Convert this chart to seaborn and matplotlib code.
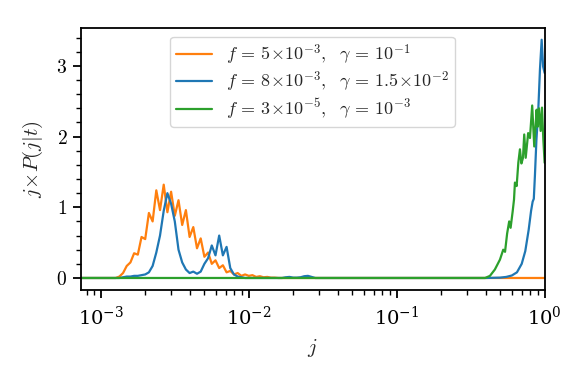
import numpy as np
import pandas as pd
import matplotlib
matplotlib.use("Agg")
import matplotlib.pyplot as plt
import matplotlib.ticker as mticker
import seaborn as sns

# ---------------- data ----------------
j_orange = [5.0e-4,
            1.000e-3, 1.059e-3, 1.122e-3, 1.189e-3, 1.259e-3, 1.334e-3, 1.413e-3, 1.496e-3,
            1.585e-3, 1.679e-3, 1.778e-3, 1.884e-3, 1.995e-3, 2.113e-3, 2.239e-3, 2.371e-3,
            2.512e-3, 2.661e-3, 2.818e-3, 2.985e-3, 3.162e-3, 3.350e-3, 3.548e-3, 3.758e-3,
            3.981e-3, 4.217e-3, 4.467e-3, 4.732e-3, 5.012e-3, 5.309e-3, 5.623e-3, 5.957e-3,
            6.310e-3, 6.683e-3, 7.079e-3, 7.499e-3, 7.943e-3, 8.414e-3, 8.913e-3, 9.441e-3,
            1.000e-2, 1.059e-2, 1.122e-2, 1.189e-2, 1.259e-2, 1.334e-2, 1.413e-2, 1.496e-2,
            1.585e-2, 3.0e-2, 1.0e-1, 3.0e-1, 1.0]
p_orange = [0.0,
            0.0, 0.0, 0.0, 0.0, 0.0, 0.02, 0.07, 0.17,
            0.22, 0.35, 0.33, 0.58, 0.55, 0.92, 0.80, 1.24,
            0.96, 1.32, 0.93, 1.22, 0.88, 1.10, 0.75, 0.96,
            0.58, 0.72, 0.42, 0.56, 0.30, 0.36, 0.20, 0.25,
            0.14, 0.18, 0.08, 0.10, 0.05, 0.07, 0.03, 0.05,
            0.03, 0.04, 0.015, 0.025, 0.01, 0.015, 0.005, 0.005,
            0.0, 0.0, 0.0, 0.0, 0.0]

j_blue = [5.0e-4,
          1.000e-3, 1.059e-3, 1.122e-3, 1.189e-3, 1.259e-3, 1.334e-3, 1.413e-3, 1.496e-3,
          1.585e-3, 1.679e-3, 1.778e-3, 1.884e-3, 1.995e-3, 2.113e-3, 2.239e-3, 2.371e-3,
          2.512e-3, 2.661e-3, 2.818e-3, 2.985e-3, 3.162e-3, 3.350e-3, 3.548e-3, 3.758e-3,
          3.981e-3, 4.217e-3, 4.467e-3, 4.732e-3, 5.012e-3, 5.309e-3, 5.623e-3, 5.957e-3,
          6.310e-3, 6.683e-3, 7.079e-3, 7.499e-3, 7.943e-3, 8.414e-3, 8.913e-3, 9.441e-3,
          1.000e-2, 1.059e-2, 1.122e-2, 1.189e-2, 1.259e-2, 1.334e-2, 1.413e-2, 1.496e-2,
          1.585e-2, 1.679e-2, 1.778e-2, 1.884e-2, 1.995e-2, 2.113e-2, 2.239e-2, 2.371e-2,
          2.512e-2, 2.661e-2, 2.818e-2,
          0.10, 0.40, 0.50, 0.55, 0.60, 0.65, 0.70, 0.74, 0.78, 0.81, 0.83, 0.845,
          0.86, 0.88, 0.905, 0.93, 0.955, 0.977, 1.0]
p_blue = [0.0,
          0.0, 0.0, 0.0, 0.0, 0.0, 0.0, 0.01, 0.02,
          0.02, 0.03, 0.03, 0.04, 0.05, 0.08, 0.17, 0.36,
          0.60, 0.95, 1.20, 1.05, 0.80, 0.40, 0.22, 0.12,
          0.07, 0.09, 0.06, 0.09, 0.20, 0.28, 0.46, 0.32,
          0.60, 0.32, 0.44, 0.14, 0.05, 0.02, 0.01, 0.0,
          0.0, 0.0, 0.0, 0.0, 0.0, 0.0, 0.0, 0.0,
          0.0, 0.0, 0.01, 0.015, 0.005, 0.005, 0.01, 0.025,
          0.03, 0.015, 0.0,
          0.0, 0.0, 0.005, 0.015, 0.035, 0.08, 0.20, 0.38, 0.68, 0.95, 1.08, 1.12,
          1.45, 1.95, 2.35, 2.95, 3.37, 2.99, 2.90]

j_green = [5.0e-4, 1.0e-2, 1.0e-1, 0.30, 0.396, 0.427, 0.461, 0.499, 0.525, 0.540,
           0.558, 0.576, 0.589, 0.608, 0.621, 0.630, 0.647, 0.664, 0.681, 0.697,
           0.714, 0.728, 0.745, 0.774, 0.796, 0.824, 0.851, 0.883, 0.897, 0.915,
           0.940, 0.960, 0.980, 1.0]
p_green = [0.0, 0.0, 0.0, 0.0, 0.0, 0.03, 0.12, 0.26, 0.40, 0.37,
           0.63, 0.80, 0.71, 0.94, 1.11, 1.35, 1.30, 1.63, 1.82, 1.62,
           1.70, 2.03, 1.70, 2.05, 1.98, 2.44, 1.86, 2.38, 2.14, 2.40,
           2.08, 2.41, 1.96, 1.63]

labels = [r"$f\,=\,5\!\times\!10^{-3},\ \ \gamma\,=\,10^{-1}$",
          r"$f\,=\,8\!\times\!10^{-3},\ \ \gamma\,=\,1.5\!\times\!10^{-2}$",
          r"$f\,=\,3\!\times\!10^{-5},\ \ \gamma\,=\,10^{-3}$"]
colors = ["#ff7f0e", "#1f77b4", "#2ca02c"]
y_ticks = [0, 1, 2, 3]

# ---------------- style ----------------
sns.set_style("ticks")
plt.rcParams.update({
    "font.family": ["DejaVu Serif"],
    "mathtext.fontset": "cm",
    "axes.edgecolor": "black",
    "xtick.color": "black",
    "ytick.color": "black",
    "axes.linewidth": 1.3,
    "xtick.major.width": 1.3,
    "ytick.major.width": 1.3,
    "xtick.minor.width": 1.0,
    "ytick.minor.width": 1.0,
    "xtick.major.size": 6,
    "ytick.major.size": 6,
    "xtick.minor.size": 3.5,
    "ytick.minor.size": 3.5,
})

fig = plt.figure(figsize=(5.8, 3.76), dpi=100)
ax = fig.add_axes([0.139, 0.229, 0.800, 0.697])

series = [(j_orange, p_orange), (j_blue, p_blue), (j_green, p_green)]
for (jj, pp), lab, col in zip(series, labels, colors):
    df = pd.DataFrame({"j": jj, "p": pp})
    sns.lineplot(data=df, x="j", y="p", ax=ax, color=col, label=lab,
                 sort=False, estimator=None, linewidth=1.6)

ax.set_xscale("log")
ax.set_xlim(7.3e-4, 1.0)
ax.margins(y=0.05)
ax.set_yticks(y_ticks)
ax.yaxis.set_major_formatter(mticker.FuncFormatter(lambda v, p: r"$%d$" % v))
ax.yaxis.set_minor_locator(mticker.MultipleLocator(0.2))
ax.xaxis.set_minor_formatter(mticker.NullFormatter())
ax.tick_params(labelsize=14)
ax.tick_params(axis="x", pad=5)

ax.set_xlabel(r"$j$", fontsize=15, labelpad=6)
ax.set_ylabel(r"$j\!\times\! P(j|t)$", fontsize=15, labelpad=8)

leg = ax.legend(loc="upper center", fontsize=13, handlelength=2.0,
                borderpad=0.3, labelspacing=0.15, handletextpad=0.8)

fig.savefig("out.png", dpi=100)
